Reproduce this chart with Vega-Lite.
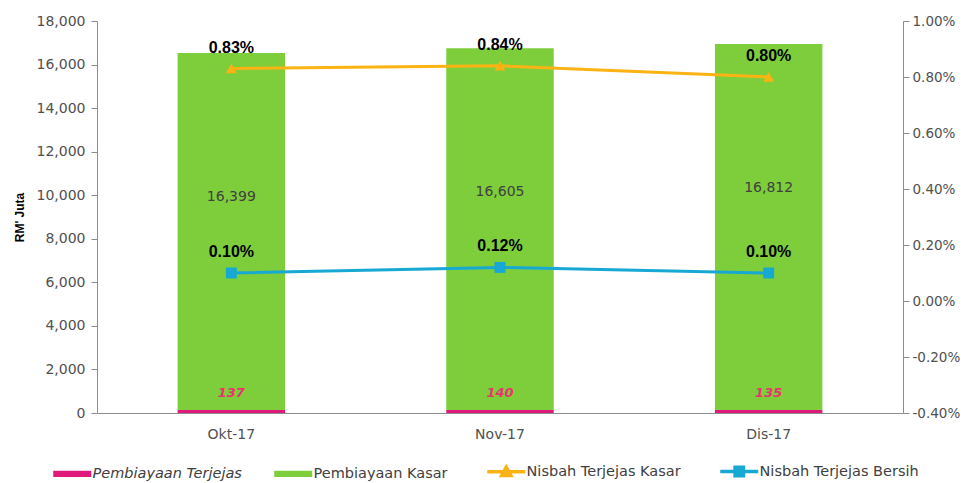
{
  "$schema": "https://vega.github.io/schema/vega-lite/v6.json",
  "width": 806,
  "height": 392,
  "autosize": {"type": "none"},
  "padding": {"left": 97, "top": 21, "right": 65, "bottom": 70},
  "background": "white",
  "config": {
    "view": {"stroke": null},
    "font": "DejaVu Sans",
    "axis": {"labelFont": "DejaVu Sans", "labelFontSize": 14, "labelColor": "#505050", "domainColor": "#8c8c8c", "tickColor": "#8c8c8c", "grid": false}
  },
  "data": {
    "values": [
      {"month": "Okt-17", "terjejas": 137, "kasar": 16399, "nk": 0.0083, "nb": 0.0010},
      {"month": "Nov-17", "terjejas": 140, "kasar": 16605, "nk": 0.0084, "nb": 0.0012},
      {"month": "Dis-17", "terjejas": 135, "kasar": 16812, "nk": 0.0080, "nb": 0.0010}
    ]
  },
  "encoding": {
    "x": {
      "field": "month", "type": "nominal", "sort": ["Okt-17", "Nov-17", "Dis-17"],
      "scale": {"paddingInner": 0.6, "paddingOuter": 0.3},
      "axis": {"title": null, "labelAngle": 0, "ticks": false, "labelPadding": 14, "domainColor": "#8c8c8c"}
    }
  },
  "layer": [
    {
      "layer": [
        {
          "transform": [{"fold": ["terjejas", "kasar"], "as": ["series", "val"]}],
          "mark": {"type": "bar"},
          "encoding": {
            "y": {
              "field": "val", "type": "quantitative", "stack": "zero",
              "scale": {"domain": [0, 18000], "nice": false},
              "axis": {"orient": "left", "values": [0, 2000, 4000, 6000, 8000, 10000, 12000, 14000, 16000, 18000], "format": ",d", "title": "RM' Juta", "titleFont": "Liberation Sans", "titleFontSize": 12, "titleFontWeight": "bold", "titleColor": "#000000", "titlePadding": 10, "tickSize": 6, "labelPadding": 6}
            },
            "color": {
              "field": "series", "type": "nominal",
              "scale": {"domain": ["terjejas", "kasar", "nk", "nb"], "range": ["#E0197D", "#7DCE3A", "#FBB313", "#17A8D4"]},
              "legend": {
                "orient": "none", "legendX": -32, "legendY": 443, "direction": "horizontal",
                "title": null, "labelFont": "DejaVu Sans", "labelFontSize": 14.5, "labelColor": "#404040", "labelLimit": 400, "labelBaseline": "middle",
                "symbolSize": 1444, "columnPadding": 32, "labelOffset": 13, "padding": 0,
                "labelExpr": "datum.value === 'terjejas' ? 'Pembiayaan Terjejas' : datum.value === 'kasar' ? 'Pembiayaan Kasar' : datum.value === 'nk' ? 'Nisbah Terjejas Kasar' : 'Nisbah Terjejas Bersih'",
                "encode": {
                  "symbols": {
                    "update": {
                      "shape": {"signal": "datum.value === 'terjejas' || datum.value === 'kasar' ? 'M-1,-0.16H1V0.16H-1Z' : datum.value === 'nk' ? 'M-1,0H1M-0.24,0.2L0,-0.24L0.24,0.2Z' : 'M-1,0H1M-0.22,-0.22H0.22V0.22H-0.22Z'"},
                      "fill": {"signal": "scale('color', datum.value)"},
                      "stroke": {"signal": "scale('color', datum.value)"},
                      "strokeWidth": {"signal": "datum.value === 'nk' || datum.value === 'nb' ? 3.5 : 0"},
                      "opacity": {"value": 1},
                      "fillOpacity": {"value": 1}
                    }
                  },
                  "labels": {
                    "update": {
                      "fontStyle": {"signal": "datum.value === 'terjejas' ? 'italic' : 'normal'"}
                    }
                  }
                }
              }
            },
            "order": {"field": "series", "sort": "descending"}
          }
        },
        {
          "mark": {"type": "text", "font": "DejaVu Sans", "fontSize": 13, "fontStyle": "italic", "fontWeight": "bold", "color": "#E8346F", "dy": -17},
          "encoding": {
            "y": {"field": "terjejas", "type": "quantitative"},
            "text": {"field": "terjejas", "type": "quantitative", "format": ",d"}
          }
        },
        {
          "mark": {"type": "text", "font": "DejaVu Sans", "fontSize": 14, "color": "#404040", "dy": 141},
          "encoding": {
            "y": {"field": "kasar", "type": "quantitative"},
            "text": {"field": "kasar", "type": "quantitative", "format": ",d"}
          }
        }
      ]
    },
    {
      "transform": [{"fold": ["nk", "nb"], "as": ["nseries", "nval"]}],
      "encoding": {
        "y": {
          "field": "nval", "type": "quantitative",
          "scale": {"domain": [-0.004, 0.01], "nice": false, "zero": false},
          "axis": {"orient": "right", "values": [-0.004, -0.002, 0, 0.002, 0.004, 0.006, 0.008, 0.01], "labelExpr": "replace(format(datum.value, '.2%'), '\u2212', '-')", "labelFontSize": 13.5, "title": null, "tickSize": 6, "labelPadding": 3}
        }
      },
      "layer": [
        {
          "mark": {"type": "line", "strokeWidth": 3},
          "encoding": {
            "color": {"field": "nseries", "type": "nominal"},
            "detail": {"field": "nseries"}
          }
        },
        {
          "mark": {"type": "point", "filled": true, "opacity": 1},
          "encoding": {
            "color": {"field": "nseries", "type": "nominal"},
            "shape": {"field": "nseries", "type": "nominal", "scale": {"domain": ["nk", "nb"], "range": ["triangle-up", "square"]}, "legend": null},
            "size": {"value": 120}
          }
        },
        {
          "mark": {"type": "text", "font": "Liberation Sans", "fontSize": 16, "fontWeight": "bold", "color": "#000000", "dy": -21},
          "encoding": {
            "text": {"field": "nval", "type": "quantitative", "format": ".2%"}
          }
        }
      ]
    }
  ],
  "resolve": {"scale": {"y": "independent"}}
}
